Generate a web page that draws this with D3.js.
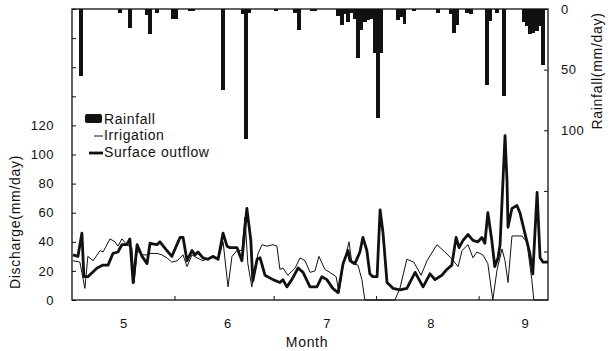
<!DOCTYPE html>
<html lang="en">
<head>
<meta charset="UTF-8">
<title>Rainfall, irrigation and surface outflow</title>
<style>
  body { margin: 0; background: #fff; }
  svg text { font-family: "Liberation Sans", Arial, sans-serif; fill: #111; }
  .axis path { display: none; }
  .axis line { stroke: #111; stroke-width: 1px; }
  .axis text { font-size: 13px; letter-spacing: 0.5px; }
  .label { font-size: 14px; letter-spacing: 0.7px; }
  .legend text { font-size: 14px; letter-spacing: 0.6px; }
  .rain { shape-rendering: crispEdges; }
</style>
</head>
<body>
<div id="chart"></div>
<script src="https://d3js.org/d3.v7.min.js"></script>
<script>
// day 0 = 1 May
const rainDays   = [2, 14, 17, 22, 23, 25, 30, 31, 35, 36, 45, 51, 52, 53, 61, 67, 68, 72, 73,
                    80, 81, 82, 83, 84, 85, 86, 87, 88, 89, 90, 91, 92, 93, 98, 99, 100, 103, 110,
                    114, 115, 116, 119, 120, 125, 126, 128, 130, 136, 137, 138, 139, 140, 141, 142];
const rainValues = [55, 3, 16, 5, 21, 3, 8, 8, 2, 2, 67, 4, 107, 3, 2, 3, 17, 2, 2,
                    6, 13, 4, 11, 3, 8, 40, 17, 11, 9, 8, 36, 90, 36, 9, 7, 12, 2, 3,
                    4, 20, 13, 3, 4, 63, 10, 3, 72, 11, 14, 21, 20, 18, 14, 46];

const irrigationDays   = [0.3, 2.4, 3.9, 4.8, 6.4, 8.5, 9.4, 11.5, 13, 13.9, 15.1, 16.6, 18.1, 18.8, 19.7,
                          21.2, 22.7, 23.6, 25.7, 27.2, 28.7, 30.2, 31.8, 33.6, 34.8, 36.3, 37.8, 39.6,
                          41.7, 43.9, 44.8, 45.7, 47.2, 48.4, 49.9, 51.4, 52.3, 53.2, 54.4, 55.4, 56.3,
                          57.5, 59, 60.8, 62, 62.9, 63.8, 65.3, 67.5, 69, 70.5, 72, 73.5, 74.7, 76.5,
                          78, 79.9, 80.8, 82, 83.8, 84.7, 86.5, 87.7, 88.6, 97.7, 99.2, 101.3, 103.4,
                          105.6, 107.4, 110.4, 112.8, 114.6, 116.8, 118, 119.8, 121.3, 122.5, 124.3,
                          125.8, 127.3, 128.6, 130.1, 131, 131.9, 133.1, 134.9, 136.1, 137.6, 139.1,
                          139.7, 144];
const irrigationValues = [27, 26, 8, 30, 27, 34, 33, 42, 40, 37, 42, 38, 36, 12, 34,
                          31, 31, 32, 32, 31, 29, 26, 27, 31, 23, 31, 29, 27,
                          29, 29, 32, 40, 9, 30, 34, 34, 57, 25, 9, 23, 32,
                          38, 37, 38, 37, 21, 22, 17, 22, 29, 27, 19, 20, 30, 21,
                          19, 16, 5, 23, 40, 25, 24, 14, 0, 0, 8, 28, 26,
                          17, 27, 38, 33, 29, 23, 34, 38, 29, 33, 31,
                          25, 0, 21, 35, 27, 12, 44, 44, 44, 40, 14,
                          0, 0];

const outflowDays   = [0.3, 1.8, 3, 3.6, 4.8, 7.6, 9.4, 10.9, 12.4, 13.9, 15.1, 16.6, 17.5, 18.5, 19.7,
                       21.2, 22.7, 23.6, 25.7, 26.6, 28.7, 30.2, 32.7, 33.6, 34.8, 36.3, 37.2, 38.1,
                       39.6, 41.1, 42.6, 44.2, 45.7, 46.9, 47.8, 49.9, 51.4, 52.9, 54.1, 54.7, 56,
                       56.9, 58.4, 60.8, 62.9, 63.8, 65, 66.5, 68.4, 69.9, 72, 74.1, 75.6, 77.1,
                       78.9, 80.5, 82, 83.5, 84.1, 85.6, 87.1, 88, 89.2, 90.1, 91, 92.3, 93.2,
                       94.1, 95.3, 97.1, 99.2, 101.3, 103.8, 106.2, 108.3, 109.8, 111.9, 113.4,
                       114.9, 116.2, 117.1, 118.3, 119.8, 121.3, 122.8, 124, 124.9, 125.8, 127,
                       127.9, 128.9, 129.5, 131, 131.6, 131.9, 133.1, 134.6, 135.5, 137, 138.5,
                       139.4, 140.7, 141.6, 142.5, 144];
const outflowValues = [31, 30, 46, 16, 16, 22, 24, 24, 32, 33, 38, 38, 42, 12, 38,
                       30, 25, 39, 38, 40, 34, 30, 43, 43, 27, 34, 31, 33,
                       29, 28, 30, 28, 46, 37, 36, 36, 27, 63, 41, 13, 28,
                       29, 17, 14, 12, 14, 9, 14, 22, 19, 9, 9, 16, 14,
                       8, 5, 25, 34, 27, 25, 33, 43, 34, 18, 16, 16, 62,
                       46, 12, 8, 7, 8, 19, 9, 18, 14, 17, 21,
                       24, 43, 36, 41, 45, 41, 40, 43, 39, 60, 41,
                       23, 29, 38, 113, 82, 50, 63, 65, 60, 46, 32,
                       18, 74, 29, 26, 26];

const monthStartDays = [31, 61, 92, 123];
const monthLabelDays = [15.5, 47, 77, 108.5, 137];
const monthLabels    = ["5", "6", "7", "8", "9"];

const dischargeTicks = [0, 20, 40, 60, 80, 100, 120, 140, 160, 180, 200];
const rainTicks      = [0, 50, 100, 150, 200];

const margin = { top: 9, right: 65, bottom: 51, left: 72 };
const width = 613 - margin.left - margin.right;
const height = 351 - margin.top - margin.bottom;

const svg = d3.select("#chart")
  .append("svg")
    .attr("width", 613)
    .attr("height", 351)
  .append("g")
    .attr("transform", `translate(${margin.left},${margin.top})`);

// Scales
const x = d3.scaleLinear().domain([0, 144]).range([0, width]);
const yQ = d3.scaleLinear().domain([0, 200]).range([height, 0]);
const yR = d3.scaleLinear().domain([0, 240]).range([0, height]);

// Rainfall bars hanging from the top
const rain = rainDays.map((d, i) => ({ day: d, value: rainValues[i] }));
svg.selectAll(".rain")
  .data(rain)
  .enter().append("rect")
    .attr("class", "rain")
    .attr("x", d => x(d.day))
    .attr("width", x(1) - x(0) + 0.6)
    .attr("y", 0)
    .attr("height", d => yR(d.value))
    .attr("fill", "#111");

// Lines
const line = d3.line()
  .x(d => x(d.day))
  .y(d => yQ(d.value));

const irrigation = irrigationDays.map((d, i) => ({ day: d, value: irrigationValues[i] }));
const outflow = outflowDays.map((d, i) => ({ day: d, value: outflowValues[i] }));

svg.append("path")
  .datum(irrigation)
  .attr("fill", "none")
  .attr("stroke", "#111")
  .attr("stroke-width", 1)
  .attr("stroke-linejoin", "round")
  .attr("d", line);

svg.append("path")
  .datum(outflow)
  .attr("fill", "none")
  .attr("stroke", "#111")
  .attr("stroke-width", 2.8)
  .attr("stroke-linejoin", "round")
  .attr("d", line);

// Frame
svg.append("rect")
  .attr("width", width)
  .attr("height", height)
  .attr("fill", "none")
  .attr("stroke", "#111")
  .attr("stroke-width", 1.3);

// Axes (ticks point inward)
svg.append("g")
  .attr("class", "axis")
  .call(d3.axisLeft(yQ).tickValues(dischargeTicks).tickSize(-4).tickPadding(18)
    .tickFormat(d => d <= 120 ? d : ""));

svg.append("g")
  .attr("class", "axis")
  .attr("transform", `translate(${width},0)`)
  .call(d3.axisRight(yR).tickValues(rainTicks).tickSize(-4).tickPadding(13)
    .tickFormat(d => d <= 100 ? d : ""));

svg.append("g")
  .attr("class", "axis")
  .attr("transform", `translate(0,${height})`)
  .call(d3.axisBottom(x).tickValues(monthStartDays).tickSize(-4).tickFormat(""));

svg.append("g")
  .attr("class", "axis")
  .attr("transform", `translate(0,${height})`)
  .call(d3.axisBottom(x).tickValues(monthLabelDays).tickSize(0).tickPadding(19)
    .tickFormat((d, i) => monthLabels[i]))
  .selectAll("line").remove();

// Axis titles
svg.append("text")
  .attr("class", "label")
  .attr("text-anchor", "middle")
  .attr("x", 235)
  .attr("y", height + 47)
  .text("Month");

svg.append("text")
  .attr("class", "label")
  .attr("text-anchor", "middle")
  .attr("transform", "rotate(-90)")
  .attr("x", -213)
  .attr("y", -52)
  .text("Discharge(mm/day)");

svg.append("text")
  .attr("class", "label")
  .attr("text-anchor", "middle")
  .attr("transform", "rotate(-90)")
  .attr("x", -62)
  .attr("y", width + 54)
  .text("Rainfall(mm/day)");

// Legend
const legend = svg.append("g").attr("class", "legend");
legend.append("rect")
  .attr("x", 13).attr("y", 105).attr("width", 17).attr("height", 9)
  .attr("rx", 2).attr("fill", "#111");
legend.append("text").attr("x", 32).attr("y", 115).text("Rainfall");
legend.append("line")
  .attr("x1", 22).attr("x2", 31).attr("y1", 127).attr("y2", 127)
  .attr("stroke", "#111").attr("stroke-width", 1);
legend.append("text").attr("x", 32).attr("y", 131).text("Irrigation");
legend.append("line")
  .attr("x1", 17).attr("x2", 31).attr("y1", 144).attr("y2", 144)
  .attr("stroke", "#111").attr("stroke-width", 2.8);
legend.append("text").attr("x", 32).attr("y", 148).text("Surface outflow");
</script>
</body>
</html>
